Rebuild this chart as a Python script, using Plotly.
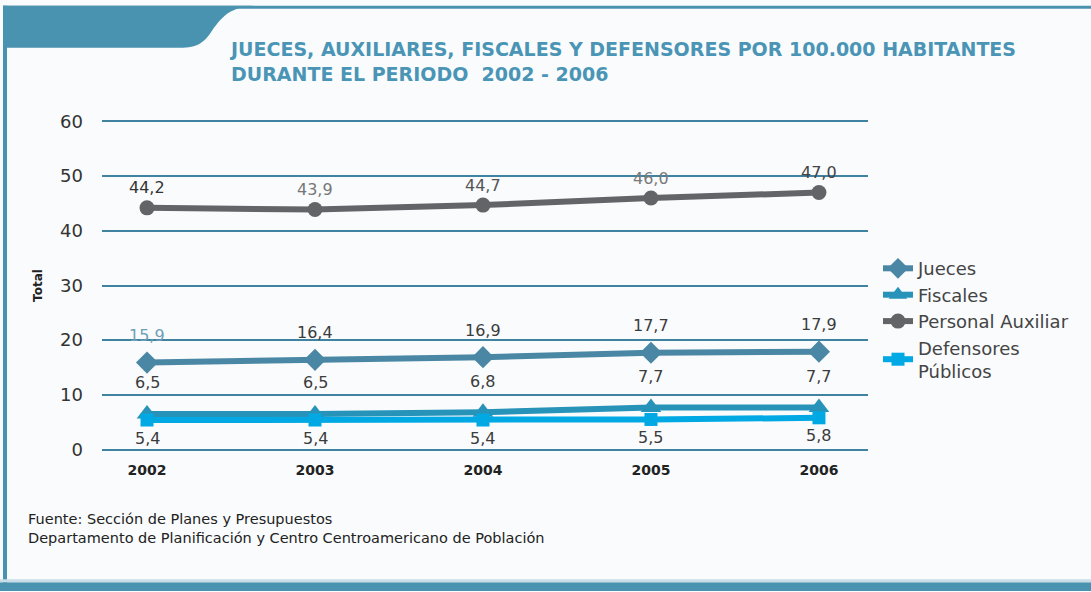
import plotly.graph_objects as go

years = ["2002", "2003", "2004", "2005", "2006"]
jueces = [15.9, 16.4, 16.9, 17.7, 17.9]
fiscales = [6.5, 6.5, 6.8, 7.7, 7.7]
auxiliar = [44.2, 43.9, 44.7, 46.0, 47.0]
defensores = [5.4, 5.4, 5.4, 5.5, 5.8]
y_ticks = [0, 10, 20, 30, 40, 50, 60]

W, H = 1091, 592
PL, PR = 102, 868
Y0PX, Y1PX = 455.5, 115.5  # y=-1 and y=61
FONT = "DejaVu Sans, Arial, sans-serif"


def px(x):
    return (x - PL) / (PR - PL)


def py(y):
    return (Y0PX - y) / (Y0PX - Y1PX)


xs = list(range(len(years)))
fig = go.Figure()

series = [
    ("Jueces", jueces, "#4a87a4", "diamond", 17),
    ("Fiscales", fiscales, "#2793b9", "triangle-up", 18),
    ("Personal Auxiliar", auxiliar, "#636467", "circle", 15),
    ("Defensores<br>Públicos", defensores, "#00a9e3", "square", 13),
]
for name, vals, col, sym, sz in series:
    fig.add_trace(go.Scatter(
        x=xs, y=vals, name=name, mode="lines+markers",
        line=dict(color=col, width=6),
        marker=dict(symbol=sym, size=sz, color=col),
    ))

lab_font = dict(family=FONT, size=16, color="#3c3c3c")
ann = []
aux_cols = ["#333333", "#777777", "#555555", "#7a7a7a", "#444444"]
for i, v in enumerate(auxiliar):
    ann.append(dict(x=i, y=v, text=f"{v:.1f}".replace(".", ","), showarrow=False,
                    yshift=20, font=dict(lab_font, color=aux_cols[i])))
for i, v in enumerate(jueces):
    c = "#6f9fb8" if i == 0 else "#3c3c3c"
    ann.append(dict(x=i, y=v, text=f"{v:.1f}".replace(".", ","), showarrow=False,
                    yshift=27, font=dict(lab_font, color=c)))
for i, v in enumerate(fiscales):
    ann.append(dict(x=i, y=v, text=f"{v:.1f}".replace(".", ","), showarrow=False,
                    yshift=31, font=lab_font))
for i, v in enumerate(defensores):
    ann.append(dict(x=i, y=v, text=f"{v:.1f}".replace(".", ","), showarrow=False,
                    yshift=-18, font=lab_font))

# Title
ann.append(dict(xref="paper", yref="paper", x=px(227), y=py(61), xanchor="left", yanchor="middle",
                align="left", showarrow=False,
                text="<b>JUECES, AUXILIARES, FISCALES Y DEFENSORES POR 100.000 HABITANTES<br>DURANTE EL PERIODO  2002 - 2006</b>",
                font=dict(family=FONT, size=19, color="#4a95b5")))
# Footer
ann.append(dict(xref="paper", yref="paper", x=px(26), y=py(529), xanchor="left", yanchor="middle",
                align="left", showarrow=False,
                text="Fuente: Sección de Planes y Presupuestos<br>Departamento de Planificación y Centro Centroamericano de Población",
                font=dict(family=FONT, size=14.5, color="#222222")))

band = "#4a93b0"
shapes = [
    dict(type="rect", xref="paper", yref="paper", x0=px(3), x1=px(7), y0=py(585), y1=py(5),
         fillcolor=band, line=dict(width=0), layer="below"),
    dict(type="rect", xref="paper", yref="paper", x0=px(3), x1=px(1091), y0=py(8), y1=py(5),
         fillcolor=band, line=dict(width=0), layer="below"),
    dict(type="rect", xref="paper", yref="paper", x0=px(0), x1=px(1091), y0=py(592), y1=py(583),
         fillcolor=band, line=dict(width=0), layer="below"),
    dict(type="rect", xref="paper", yref="paper", x0=px(0), x1=px(1091), y0=py(583), y1=py(580),
         fillcolor="#c9dde7", line=dict(width=0), layer="below"),
    dict(type="path", xref="paper", yref="paper",
         path=(f"M {px(3)} {py(5)} L {px(255)} {py(5)} "
               f"C {px(230)} {py(6)} {px(222)} {py(16)} {px(212)} {py(30)} "
               f"C {px(204)} {py(42)} {px(198)} {py(47)} {px(180)} {py(47)} "
               f"L {px(3)} {py(47)} Z"),
         fillcolor=band, line=dict(width=0), layer="below"),
]

fig.update_layout(
    width=W, height=H,
    paper_bgcolor="#f9fbfd", plot_bgcolor="#f9fbfd",
    margin=dict(l=PL, r=W - PR, t=Y1PX, b=H - Y0PX, pad=0),
    showlegend=True,
    legend=dict(x=px(878), y=py(250), xanchor="left", yanchor="top",
                font=dict(family=FONT, size=18, color="#444444"),
                bgcolor="rgba(0,0,0,0)", tracegroupgap=0, itemwidth=30),
    annotations=ann,
    shapes=shapes,
    xaxis=dict(range=[-0.268, 4.292], tickmode="array", tickvals=xs,
               ticktext=[f"<b>{y}</b>" for y in years],
               showgrid=False, zeroline=False, showline=False,
               tickfont=dict(family=FONT, size=14, color="#222222"),
               ticklabelstandoff=5),
    yaxis=dict(range=[-1, 61], tickmode="array", tickvals=y_ticks,
               showgrid=True, gridcolor="#3f83a1", gridwidth=2, zeroline=False, showline=False,
               tickfont=dict(family=FONT, size=18, color="#333333"),
               ticklabelstandoff=18,
               title=dict(text="<b>Total</b>", standoff=14,
                          font=dict(family=FONT, size=12, color="#222222"))),
    font=dict(family=FONT),
)

fig.write_html("out.html", config={"displayModeBar": False},
               post_script="document.body.style.margin='0';")
